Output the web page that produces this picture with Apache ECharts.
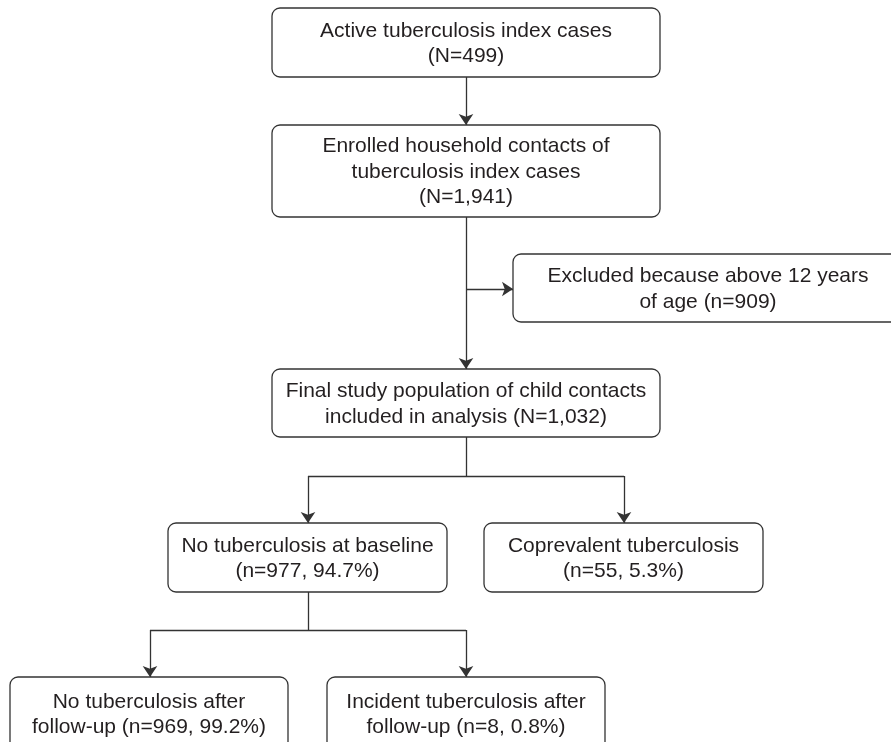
<!DOCTYPE html>
<html>
<head>
    <meta charset="UTF-8">
    <script src="https://cdn.jsdelivr.net/npm/echarts@6/dist/echarts.min.js"></script>
    <title>Flow chart</title>
    <style>
        html, body { margin: 0; padding: 0; background: #fff; }
        #box { width: 891px; height: 742px; }
    </style>
</head>
<body>
    <div id="box"></div>
    <script>
        // box texts
        var labels = [
            'Active tuberculosis index cases\n(N=499)',
            'Enrolled household contacts of\ntuberculosis index cases\n(N=1,941)',
            'Excluded because above 12 years\nof age (n=909)',
            'Final study population of child contacts\nincluded in analysis (N=1,032)',
            'No tuberculosis at baseline\n(n=977, 94.7%)',
            'Coprevalent tuberculosis\n(n=55, 5.3%)',
            'No tuberculosis after\nfollow-up (n=969, 99.2%)',
            'Incident tuberculosis after\nfollow-up (n=8, 0.8%)'
        ];
        // layout of the boxes (left, top, right, bottom)
        var boxLeft   = [272, 272, 513, 272, 168, 484,  10, 327];
        var boxTop    = [  8, 125, 254, 369, 523, 523, 677, 677];
        var boxRight  = [660, 660, 903, 660, 447, 763, 288, 605];
        var boxBottom = [ 77, 217, 322, 437, 592, 592, 750, 750];

        // connector pieces without arrowhead
        var plainLinks = [
            [[466, 437], [466, 476]],
            [[308, 476], [624, 476]],
            [[308, 592], [308, 630]],
            [[150, 630], [466, 630]]
        ];
        // connector pieces ending with an arrowhead (tip on the box edge)
        var arrowLinks = [
            [[466, 77], [466, 125]],
            [[466, 217], [466, 369]],
            [[466, 289], [513, 289]],
            [[308, 476], [308, 523]],
            [[624, 476], [624, 523]],
            [[150, 630], [150, 677]],
            [[466, 630], [466, 677]]
        ];

        var mychart = echarts.init(document.getElementById('box'));

        var boxData = labels.map(function (t, i) {
            return [boxLeft[i], boxTop[i], boxRight[i], boxBottom[i], i];
        });

        var lineStyle = { color: '#333', width: 1.3, opacity: 1 };

        var option = {
            animation: false,
            grid: { left: 0, right: 0, top: 0, bottom: 0 },
            xAxis: { type: 'value', min: 0, max: 891, show: false },
            yAxis: { type: 'value', min: 0, max: 742, inverse: true, show: false },
            series: [
                {
                    type: 'lines',
                    coordinateSystem: 'cartesian2d',
                    symbol: 'none',
                    lineStyle: lineStyle,
                    data: plainLinks.map(function (c) { return { coords: c }; }),
                    z: 1
                },
                {
                    type: 'lines',
                    coordinateSystem: 'cartesian2d',
                    symbol: ['none', 'arrow'],
                    symbolSize: 11,
                    lineStyle: lineStyle,
                    itemStyle: { color: '#333' },
                    data: arrowLinks.map(function (c) { return { coords: c }; }),
                    z: 3
                },
                {
                    type: 'custom',
                    clip: false,
                    data: boxData,
                    renderItem: function (params, api) {
                        var p0 = api.coord([api.value(0), api.value(1)]);
                        var p1 = api.coord([api.value(2), api.value(3)]);
                        var idx = api.value(4);
                        return {
                            type: 'group',
                            children: [{
                                type: 'rect',
                                shape: { x: p0[0], y: p0[1], width: p1[0] - p0[0], height: p1[1] - p0[1], r: 8 },
                                style: { fill: '#fff', stroke: '#333', lineWidth: 1.3 }
                            }, {
                                type: 'text',
                                style: {
                                    text: labels[idx],
                                    x: (p0[0] + p1[0]) / 2,
                                    y: (p0[1] + p1[1]) / 2 + 1,
                                    align: 'center',
                                    verticalAlign: 'middle',
                                    font: '21px "Liberation Sans", Arial, sans-serif',
                                    lineHeight: 25.5,
                                    fill: '#231f20'
                                }
                            }]
                        };
                    },
                    z: 2
                }
            ]
        };

        mychart.setOption(option);
    </script>
</body>
</html>
